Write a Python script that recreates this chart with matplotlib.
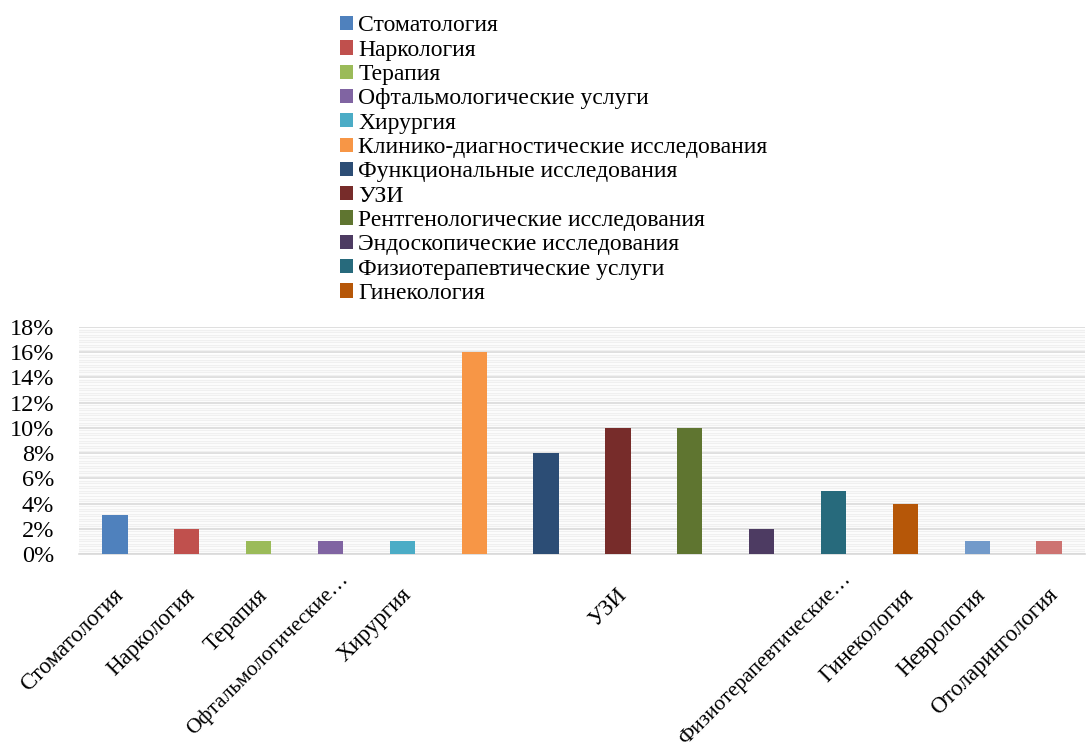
import numpy as np
import matplotlib.pyplot as plt
import matplotlib.transforms as mtransforms
from matplotlib.patches import Patch
from matplotlib.ticker import MultipleLocator, PercentFormatter

plt.rcParams['font.family'] = ['Liberation Serif', 'DejaVu Serif']

# Данные
categories = ["Стоматология", "Наркология", "Терапия", "Офтальмологические услуги",
              "Хирургия", "Клинико-диагностические исследования", "Функциональные исследования",
              "УЗИ", "Рентгенологические исследования", "Эндоскопические исследования",
              "Физиотерапевтические услуги", "Гинекология", "Неврология", "Отоларингология"]
values = [3.1, 2, 1, 1, 1, 16, 8, 10, 10, 2, 5, 4, 1, 1]
tick_labels = ["Стоматология", "Наркология", "Терапия", "Офтальмологические…", "Хирургия",
               "", "", "УЗИ", "", "", "Физиотерапевтические…", "Гинекология",
               "Неврология", "Отоларингология"]
colors = ["#4F81BD", "#C0504D", "#9BBB59", "#8064A2", "#4BACC6", "#F79646", "#2C4D75",
          "#772C2A", "#5F7530", "#4D3B62", "#276A7C", "#B65708", "#729ACA", "#CD7371"]
n_legend = 12
fs = 17

fig = plt.figure(figsize=(10.86, 7.54), dpi=100)
ax = fig.add_axes([79/1086, 200/754, 1006/1086, 227/754])

x = np.arange(len(categories))
ax.bar(x, values, width=0.35, color=colors, zorder=3)

ax.set_xlim(-0.5, len(categories) - 0.5)
ax.set_ylim(0, 18)
ax.yaxis.set_major_locator(MultipleLocator(2))
ax.yaxis.set_minor_locator(MultipleLocator(0.2))
ax.yaxis.set_major_formatter(PercentFormatter(decimals=0))
ax.grid(axis='y', which='major', color='#D9D9D9', linewidth=1.2, zorder=0)
ax.grid(axis='y', which='minor', color='#F0F0F0', linewidth=1.0, zorder=0)
for s in ['top', 'right', 'left']:
    ax.spines[s].set_visible(False)
ax.spines['bottom'].set_color('#D9D9D9')
ax.spines['bottom'].set_linewidth(1.2)
ax.tick_params(axis='y', which='both', length=0, labelsize=17.5, pad=18)
ax.tick_params(axis='x', which='both', length=0, labelsize=16.5, pad=22)
ax.set_xticks(x)
ax.set_xticklabels(tick_labels, rotation=45, ha='right', rotation_mode='anchor')
for lab in ax.get_xticklabels():
    # обрезанные подписи у Excel сидят выше и правее
    if lab.get_text().endswith("…"):
        dx, dy = 8, 15
        lab.set_fontsize(15.5)
    else:
        dx, dy = -2, 0
    shift = mtransforms.ScaledTranslation(dx/100, dy/100, fig.dpi_scale_trans)
    lab.set_transform(lab.get_transform() + shift)

handles = [Patch(facecolor=colors[i], label=categories[i]) for i in range(n_legend)]
fig.legend(handles=handles, loc='upper left', bbox_to_anchor=(331/1086, 1 - 6/754),
           frameon=False, fontsize=fs, handlelength=0.55, handleheight=0.55,
           handletextpad=0.2, labelspacing=0.14, borderaxespad=0)

fig.savefig("out.png", dpi=100)
